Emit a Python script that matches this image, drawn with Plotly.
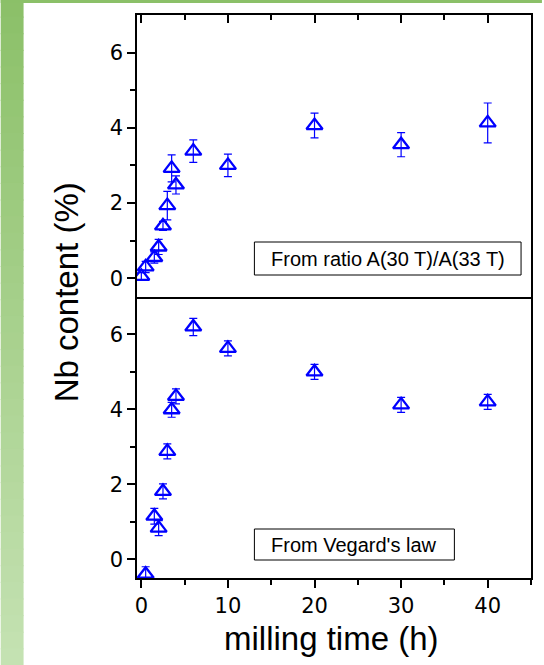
import plotly.graph_objects as go

# ---------------- data ----------------
ratio_time = [0, 0.5, 1.5, 2, 2.5, 3, 3.5, 4, 6, 10, 20, 30, 40]
ratio_nb = [0.05, 0.3, 0.55, 0.83, 1.39, 1.93, 2.92, 2.48, 3.38, 3.0, 4.06, 3.55, 4.13]
ratio_err = [0.1, 0.15, 0.15, 0.2, 0.12, 0.38, 0.36, 0.24, 0.3, 0.3, 0.33, 0.32, 0.53]

vegard_time = [0.5, 1.5, 2, 2.5, 3, 3.5, 4, 6, 10, 20, 30, 40]
vegard_nb = [-0.4, 1.15, 0.83, 1.81, 2.88, 3.99, 4.35, 6.2, 5.63, 5.0, 4.12, 4.2]
vegard_err = [0.2, 0.21, 0.2, 0.2, 0.2, 0.2, 0.2, 0.23, 0.2, 0.2, 0.2, 0.2]

x_ticks = [0, 10, 20, 30, 40]
x_minor = [5, 15, 25, 35, 45]
y_ticks = [0, 2, 4, 6]
y_minor = [1, 3, 5]
x_range = [-0.5, 45]
y_range = [-0.5, 7]

ratio_label = "From ratio A(30 T)/A(33 T)"
vegard_label = "From Vegard's law"
x_title = "milling time (h)"
y_title = "Nb content (%)"

# ---------------- layout helpers ----------------
W, H = 544, 665
L, R, T, B = 137, 533, 15, 578
MID = 297


def px_x(p):
    return (p - L) / (R - L)


def px_y(p):
    return (B - p) / (B - T)


split = px_y(MID)
FONT = "Liberation Sans, Arial, sans-serif"
TICKFONT = "DejaVu Sans, sans-serif"
BLUE = "#0000ff"

fig = go.Figure()


def add_series(xs, ys, es, xa, ya):
    fig.add_trace(go.Scatter(
        x=xs, y=ys, mode="markers", xaxis=xa, yaxis=ya,
        marker=dict(symbol="triangle-up-open", size=14, color=BLUE,
                    line=dict(width=2.3, color=BLUE)),
        error_y=dict(type="data", array=es, visible=True, color=BLUE,
                     thickness=1.2, width=4),
        showlegend=False, hoverinfo="x+y"))


add_series(ratio_time, ratio_nb, ratio_err, "x2", "y2")
add_series(vegard_time, vegard_nb, vegard_err, "x", "y")

TICK_FONT = dict(family=TICKFONT, size=21, color="black")
common = dict(showgrid=False, zeroline=False, linecolor="black", linewidth=1.5,
              tickcolor="black", tickwidth=1.5)

xmaj = dict(range=x_range, tickvals=x_ticks, ticklen=8, **common)
ymaj = dict(range=y_range, tickvals=y_ticks, ticklen=8, **common)

fig.update_layout(
    width=W, height=H,
    margin=dict(l=L, r=W - R, t=T, b=H - B),
    paper_bgcolor="white", plot_bgcolor="white",
    showlegend=False,
    font=dict(family=TICKFONT, size=21, color="black"),
    xaxis=dict(domain=[0, 1], anchor="y", side="bottom", ticks="outside",
               showline=True, mirror=False, tickfont=TICK_FONT,
               minor=dict(tickvals=x_minor, ticks="outside", ticklen=5,
                          tickwidth=1.5, tickcolor="black"),
               **xmaj),
    xaxis3=dict(overlaying="x", anchor="y", side="top", ticks="inside",
                showline=True, showticklabels=False,
                minor=dict(tickvals=x_minor, ticks="inside", ticklen=5,
                           tickwidth=1.5, tickcolor="black"),
                **xmaj),
    xaxis2=dict(domain=[0, 1], anchor="y2", side="top", ticks="inside",
                showline=True, mirror=True, showticklabels=False,
                minor=dict(tickvals=x_minor, ticks="inside", ticklen=5,
                           tickwidth=1.5, tickcolor="black"),
                **xmaj),
    yaxis=dict(domain=[0, split], anchor="x", side="left", ticks="outside",
               showline=True, mirror=True, tickfont=TICK_FONT,
               minor=dict(tickvals=y_minor, ticks="outside", ticklen=5,
                          tickwidth=1.5, tickcolor="black"),
               **ymaj),
    yaxis3=dict(overlaying="y", anchor="x", side="right", ticks="inside",
                showline=False, showticklabels=False,
                minor=dict(tickvals=y_minor, ticks="inside", ticklen=5,
                           tickwidth=1.5, tickcolor="black"),
                **ymaj),
    yaxis2=dict(domain=[split, 1], anchor="x2", side="left", ticks="outside",
                showline=True, mirror=True, tickfont=TICK_FONT,
                minor=dict(tickvals=y_minor, ticks="outside", ticklen=5,
                           tickwidth=1.5, tickcolor="black"),
                **ymaj),
    yaxis4=dict(overlaying="y2", anchor="x2", side="right", ticks="inside",
                showline=False, showticklabels=False,
                minor=dict(tickvals=y_minor, ticks="inside", ticklen=5,
                           tickwidth=1.5, tickcolor="black"),
                **ymaj),
)

# ---------------- background decoration (green strip) ----------------
top_rgb = (139, 192, 104)
bot_rgb = (197, 226, 179)
shapes = []
N = 40
for i in range(N):
    f = (i + 0.5) / N
    c = tuple(round(top_rgb[k] + (bot_rgb[k] - top_rgb[k]) * f) for k in range(3))
    y0 = H * i / N
    y1 = H * (i + 1) / N + 1
    shapes.append(dict(type="rect", xref="paper", yref="paper",
                       x0=px_x(0), x1=px_x(23), y0=px_y(y1), y1=px_y(y0),
                       fillcolor="rgb(%d,%d,%d)" % c, line=dict(width=0),
                       layer="below"))
shapes.append(dict(type="rect", xref="paper", yref="paper",
                   x0=px_x(0), x1=px_x(W), y0=px_y(3), y1=px_y(0),
                   fillcolor="rgb(%d,%d,%d)" % top_rgb, line=dict(width=0),
                   layer="below"))

# label boxes
shapes.append(dict(type="rect", xref="paper", yref="paper",
                   x0=px_x(255), x1=px_x(523), y0=px_y(275), y1=px_y(242),
                   fillcolor="white", line=dict(width=1, color="black")))
shapes.append(dict(type="rect", xref="paper", yref="paper",
                   x0=px_x(255), x1=px_x(456), y0=px_y(560), y1=px_y(529),
                   fillcolor="white", line=dict(width=1, color="black")))
fig.update_layout(shapes=shapes)

annots = [
    dict(text=ratio_label, x=px_x(389), y=px_y(258.5)),
    dict(text=vegard_label, x=px_x(355.5), y=px_y(544.5)),
]
for a in annots:
    fig.add_annotation(xref="paper", yref="paper", showarrow=False,
                       xanchor="center", yanchor="middle",
                       font=dict(family=FONT, size=20, color="black"), **a)

fig.add_annotation(text=x_title, xref="paper", yref="paper", showarrow=False,
                   x=px_x(332.5), y=px_y(638), xanchor="center", yanchor="middle",
                   font=dict(family=FONT, size=33, color="black"))
fig.add_annotation(text=y_title, xref="paper", yref="paper", showarrow=False,
                   x=px_x(66), y=px_y(292), xanchor="center", yanchor="middle",
                   textangle=-90,
                   font=dict(family=FONT, size=33, color="black"))

fig.write_html("out.html")
